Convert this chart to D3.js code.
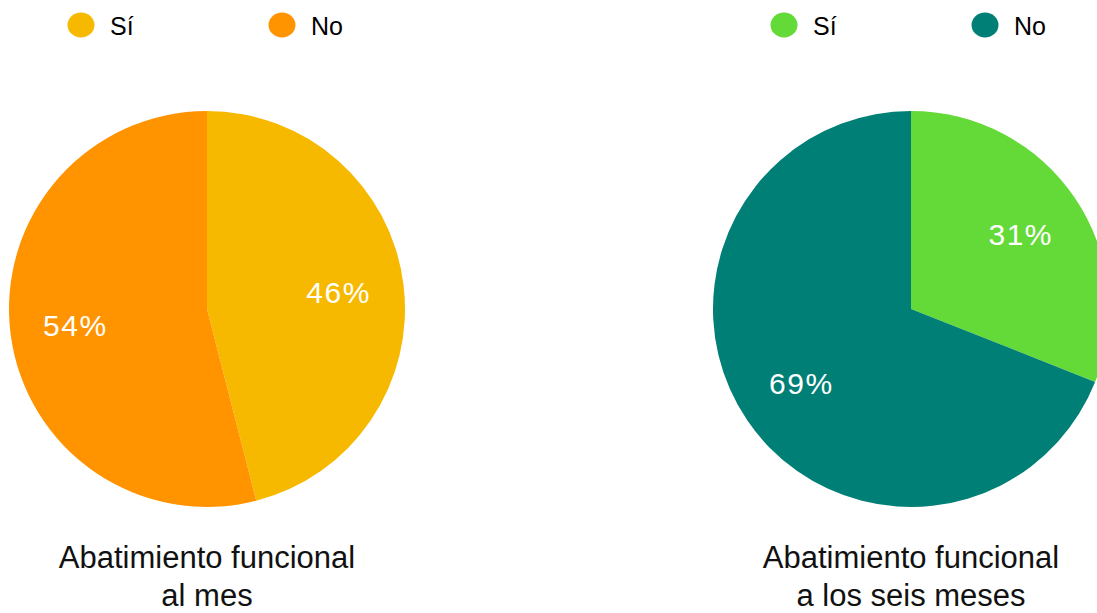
<!DOCTYPE html>
<html><head><meta charset="utf-8">
<script src="https://cdn.jsdelivr.net/npm/d3@7"></script>
<style>html,body{margin:0;padding:0;background:#fff;overflow:hidden}svg{display:block}text{font-family:"Liberation Sans",Arial,sans-serif}</style>
</head><body>
<script>
const categories = ["Sí", "No"];
const valuesMes = [46, 54];
const valuesSeis = [31, 69];
const titlesMes = ["Abatimiento funcional", "al mes"];
const titlesSeis = ["Abatimiento funcional", "a los seis meses"];
const colorsMes = ["#F7B900", "#FF9300"];
const colorsSeis = ["#63DA38", "#007F76"];

const W = 1097, H = 613;
const svg = d3.select("body").append("svg").attr("width", W).attr("height", H);

function drawPie(cx, values, colors, titles, legendX) {
  const r = 198, cy = 309;
  const g = svg.append("g").attr("transform", `translate(${cx},${cy})`);
  const pie = d3.pie().sort(null).value(d => d)(values);
  const arc = d3.arc().innerRadius(0).outerRadius(r);
  const labelArc = d3.arc().innerRadius(r * 0.67).outerRadius(r * 0.67);
  g.selectAll("path").data(pie).join("path").attr("d", arc).attr("fill", (d, i) => colors[i]);
  g.selectAll("text").data(pie).join("text")
    .attr("transform", d => `translate(${labelArc.centroid(d)})`)
    .attr("text-anchor", "middle").attr("dy", "0.36em")
    .attr("fill", "#fff").style("font-size", "30px").style("letter-spacing", "1.5px")
    .text(d => d.data + "%");
  const lg = svg.append("g");
  categories.forEach((c, i) => {
    const x = legendX[i];
    lg.append("ellipse").attr("cx", x).attr("cy", 25).attr("rx", 13.5).attr("ry", 12.5).attr("fill", colors[i]);
    lg.append("text").attr("x", x + 29).attr("y", 35).style("font-size", "25px").attr("fill", "#000").text(c);
  });
  const t = svg.append("text").attr("text-anchor", "middle").attr("fill", "#111").style("font-size", "31px");
  titles.forEach((s, i) => {
    t.append("tspan").attr("x", cx).attr("y", 568 + i * 38).text(s);
  });
}

drawPie(207, valuesMes, colorsMes, titlesMes, [81, 282]);
drawPie(911, valuesSeis, colorsSeis, titlesSeis, [784, 985]);
</script>
</body></html>
